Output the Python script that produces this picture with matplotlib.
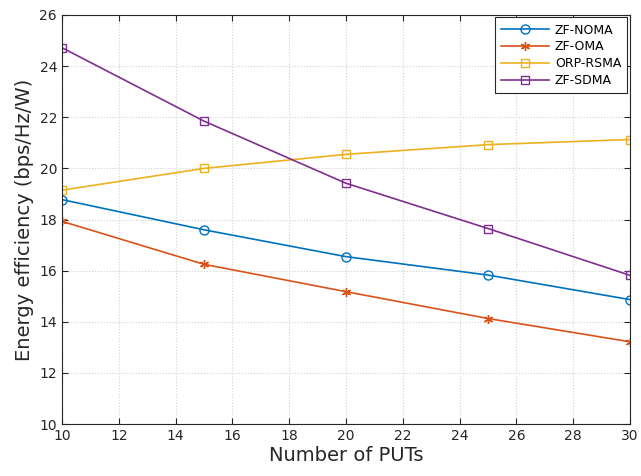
import matplotlib
matplotlib.use("Agg")
import matplotlib.pyplot as plt

# Data
puts = [10, 15, 20, 25, 30]
zf_noma = [18.78, 17.60, 16.55, 15.83, 14.87]
zf_oma = [17.93, 16.25, 15.18, 14.13, 13.22]
orp_rsma = [19.15, 20.00, 20.55, 20.93, 21.13]
zf_sdma = [24.72, 21.85, 19.42, 17.65, 15.82]

fig = plt.figure(figsize=(6.41, 4.76), dpi=100)
ax = fig.add_axes([0.0967, 0.109, 0.886, 0.8595])

ax.plot(puts, zf_noma, color=(0, 0.447, 0.741), marker='o', ms=6.5, mfc='none', lw=1.2, label='ZF-NOMA')
ax.plot(puts, zf_oma, color=(0.85, 0.325, 0.098), marker=(6, 2, 0), ms=6.5, lw=1.2, label='ZF-OMA')
ax.plot(puts, orp_rsma, color=(0.929, 0.694, 0.125), marker='s', ms=6, mfc='none', lw=1.2, label='ORP-RSMA')
ax.plot(puts, zf_sdma, color=(0.494, 0.184, 0.556), marker='s', ms=6, mfc='none', lw=1.2, label='ZF-SDMA')

ax.set_xlim(10, 30)
ax.set_ylim(10, 26)
ax.set_xticks(range(10, 31, 2))
ax.set_yticks(range(10, 27, 2))
ax.grid(True, linestyle=':', color='#d0d0d0', linewidth=0.8)
ax.tick_params(direction='in', top=True, right=True, labelsize=10, colors='#262626', length=4)
for s in ax.spines.values():
    s.set_color('#262626')
    s.set_linewidth(0.8)

ax.set_xlabel('Number of PUTs', fontsize=14, color='#262626', labelpad=2)
ax.set_ylabel('Energy efficiency (bps/Hz/W)', fontsize=14, color='#262626', labelpad=4)

leg = ax.legend(loc='upper right', fontsize=9, fancybox=False, framealpha=1, edgecolor='#262626',
                borderaxespad=0.2, handlelength=3.8, labelspacing=0.3, borderpad=0.5, handletextpad=0.5)
leg.get_frame().set_linewidth(0.8)

fig.savefig('out.png', dpi=100)
